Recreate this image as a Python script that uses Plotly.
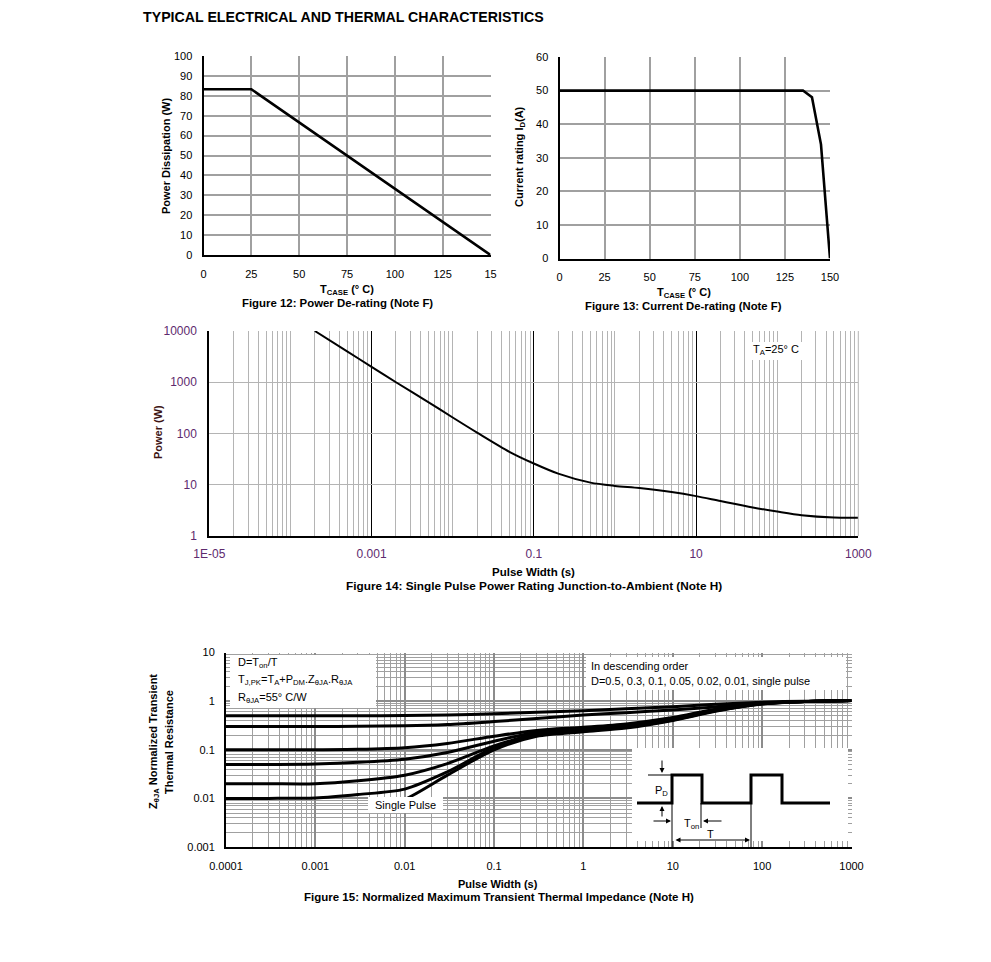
import plotly.graph_objects as go

W, H = 991, 962
OFF = 8                      # default page margin of the html body
FW, FH = W - 2 * OFF, H - 2 * OFF
FONT = "Liberation Sans, Arial, sans-serif"

# ---------------- data ----------------
# Figure 12: Power De-rating
tcase12 = [0, 25, 150]
pd12 = [83.3, 83.3, 0]
x12_tickvals = [0, 25, 50, 75, 100, 125, 150]
x12_ticktext = ["0", "25", "50", "75", "100", "125", "15"]
y12_tickvals = [0, 10, 20, 30, 40, 50, 60, 70, 80, 90, 100]

# Figure 13: Current De-rating
tcase13 = [0, 135, 140, 145, 150]
id13 = [50, 50, 48, 34, 0]
x13_tickvals = [0, 25, 50, 75, 100, 125, 150]
y13_tickvals = [0, 10, 20, 30, 40, 50, 60]

# Figure 14: Single pulse power rating
t14 = [2e-4, 5e-4, 1e-3, 2e-3, 5e-3, 1e-2, 2e-2, 5e-2, 0.1, 0.2, 0.5, 1, 2, 5, 10, 20, 50, 100, 200, 500, 1000]
p14 = [10000, 4000, 2000, 1000, 410, 205, 104, 44, 26, 16.5, 11, 9.5, 8.6, 7.2, 6.0, 4.8, 3.6, 3.0, 2.55, 2.3, 2.28]
x14_tickvals = [1e-5, 1e-3, 0.1, 10, 1000]
x14_ticktext = ["1E-05", "0.001", "0.1", "10", "1000"]
y14_tickvals = [1, 10, 100, 1000, 10000]
y14_ticktext = ["1", "10", "100", "1000", "10000"]

# Figure 15: Normalized transient thermal impedance
t15 = [1e-4, 3e-4, 1e-3, 3e-3, 1e-2, 3e-2, 0.1, 0.3, 1, 3, 10, 30, 100, 300, 1000]
z_d050 = [0.5, 0.5, 0.5, 0.5, 0.505, 0.52, 0.55, 0.59, 0.635, 0.7, 0.77, 0.86, 0.95, 1.0, 1.03]
z_d030 = [0.3, 0.3, 0.3, 0.305, 0.31, 0.33, 0.38, 0.44, 0.52, 0.58, 0.66, 0.76, 0.9, 0.98, 1.03]
z_d010 = [0.1, 0.1, 0.1, 0.102, 0.11, 0.135, 0.19, 0.25, 0.29, 0.34, 0.46, 0.68, 0.9, 0.98, 1.03]
z_d005 = [0.05, 0.05, 0.051, 0.055, 0.064, 0.088, 0.15, 0.23, 0.27, 0.32, 0.44, 0.66, 0.89, 0.98, 1.03]
z_d002 = [0.02, 0.02, 0.02, 0.023, 0.03, 0.052, 0.12, 0.21, 0.255, 0.3, 0.42, 0.64, 0.88, 0.98, 1.03]
z_d001 = [0.01, 0.01, 0.0102, 0.012, 0.0155, 0.035, 0.11, 0.2, 0.245, 0.29, 0.41, 0.63, 0.88, 0.98, 1.03]
t15_single = [0.004, 0.01, 0.03, 0.1, 0.3, 1, 3, 10, 30, 100, 300, 1000]
z_single = [0.0056, 0.0095, 0.03, 0.1, 0.19, 0.235, 0.28, 0.4, 0.62, 0.87, 0.98, 1.03]
duty_names = ["D=0.5", "D=0.3", "D=0.1", "D=0.05", "D=0.02", "D=0.01"]
x15_tickvals = [1e-4, 1e-3, 1e-2, 0.1, 1, 10, 100, 1000]
x15_ticktext = ["0.0001", "0.001", "0.01", "0.1", "1", "10", "100", "1000"]
y15_tickvals = [0.001, 0.01, 0.1, 1, 10]
y15_ticktext = ["0.001", "0.01", "0.1", "1", "10"]


def px(x):
    return (x - OFF) / FW


def py(y):
    return 1 - (y - OFF) / FH


def log_minor(e0, e1):
    return [m * 10.0 ** e for e in range(e0, e1) for m in range(2, 10)]


fig = go.Figure()

fig.add_trace(go.Scatter(x=tcase12, y=pd12, mode="lines", line=dict(color="black", width=2.6),
                         xaxis="x", yaxis="y", showlegend=False, hoverinfo="skip"))
fig.add_trace(go.Scatter(x=tcase13, y=id13, mode="lines", line=dict(color="black", width=2.6),
                         xaxis="x2", yaxis="y2", showlegend=False, hoverinfo="skip"))
fig.add_trace(go.Scatter(x=t14, y=p14, mode="lines", line=dict(color="black", width=2, shape="spline", smoothing=0.8),
                         xaxis="x3", yaxis="y3", showlegend=False, hoverinfo="skip"))
for name, vals in zip(duty_names, [z_d050, z_d030, z_d010, z_d005, z_d002, z_d001]):
    fig.add_trace(go.Scatter(x=t15, y=vals, mode="lines", name=name,
                             line=dict(color="black", width=3, shape="spline", smoothing=0.8),
                             xaxis="x4", yaxis="y4", showlegend=False, hoverinfo="skip"))
fig.add_trace(go.Scatter(x=t15_single, y=z_single, mode="lines", name="single pulse",
                         line=dict(color="black", width=3, shape="spline", smoothing=0.8),
                         xaxis="x4", yaxis="y4", showlegend=False, hoverinfo="skip"))

GRID = "#a0a0a0"
tickfont = dict(family=FONT, size=11, color="black")
tickfont14 = dict(family=FONT, size=12, color="#5e2a6e")

common = dict(showline=True, linecolor="black", linewidth=2, ticks="", zeroline=False,
              showgrid=True, fixedrange=True, automargin=False)

layout = dict(
    width=FW, height=FH, margin=dict(l=0, r=0, t=0, b=0, pad=0, autoexpand=False),
    paper_bgcolor="white", plot_bgcolor="white",
    font=dict(family=FONT, size=11, color="black"),
    showlegend=False,
    xaxis=dict(domain=[px(203.5), px(490.5)], anchor="y", range=[0, 150], tickmode="array",
               tickvals=x12_tickvals, ticktext=x12_ticktext, gridcolor=GRID, gridwidth=1.5,
               ticklabelstandoff=8, tickfont=tickfont, **common),
    yaxis=dict(domain=[py(255), py(56)], anchor="x", range=[0, 100], tickmode="array",
               tickvals=y12_tickvals, gridcolor=GRID, gridwidth=1.5, ticklabelstandoff=7,
               tickfont=tickfont, **common),
    xaxis2=dict(domain=[px(559.5), px(830)], anchor="y2", range=[0, 150], tickmode="array",
                tickvals=x13_tickvals, gridcolor=GRID, gridwidth=1.5, ticklabelstandoff=7,
                tickfont=tickfont, **common),
    yaxis2=dict(domain=[py(258.5), py(57)], anchor="x2", range=[0, 60], tickmode="array",
                tickvals=y13_tickvals, gridcolor=GRID, gridwidth=1.5, ticklabelstandoff=7,
                tickfont=tickfont, **common),
    xaxis3=dict(domain=[px(209.3), px(858.3)], anchor="y3", type="log", range=[-5, 3], tickmode="array",
                tickvals=x14_tickvals, ticktext=x14_ticktext, gridcolor="black", gridwidth=1,
                minor=dict(tickvals=[m * 10.0 ** e for e in range(-5, 3) for m in range(1, 10)],
                           showgrid=True, gridcolor="#b4b4b4", gridwidth=1, ticks=""),
                ticklabelstandoff=6, tickfont=tickfont14, **common),
    yaxis3=dict(domain=[py(536), py(331)], anchor="x3", type="log", range=[0, 4], tickmode="array",
                tickvals=y14_tickvals, ticktext=y14_ticktext, gridcolor="#b4b4b4", gridwidth=1,
                ticklabelstandoff=8, tickfont=tickfont14, **common),
    xaxis4=dict(domain=[px(226), px(851.5)], anchor="y4", type="log", range=[-4, 3], tickmode="array",
                tickvals=x15_tickvals, ticktext=x15_ticktext, gridcolor="#8c8c8c", gridwidth=1.5,
                minor=dict(tickvals=log_minor(-4, 3), showgrid=True, gridcolor="#a0a0a0", gridwidth=1.2, ticks=""),
                ticklabelstandoff=8, tickfont=tickfont, **common),
    yaxis4=dict(domain=[py(847), py(652.5)], anchor="x4", type="log", range=[-3, 1], tickmode="array",
                tickvals=y15_tickvals, ticktext=y15_ticktext, gridcolor="#8c8c8c", gridwidth=1.5,
                minor=dict(tickvals=log_minor(-3, 1), showgrid=True, gridcolor="#a0a0a0", gridwidth=1.2, ticks=""),
                ticklabelstandoff=7, tickfont=tickfont, **common),
)
fig.update_layout(**layout)

shapes = []
# right edge of figure 14 grid is grey, not black
shapes.append(dict(type="line", xref="x3 domain", yref="y3 domain", x0=1, x1=1, y0=0, y1=1,
                   line=dict(color="#b4b4b4", width=1), layer="above"))


def rect(x0, y0, x1, y1):
    shapes.append(dict(type="rect", xref="paper", yref="paper", x0=px(x0), x1=px(x1), y0=py(y1), y1=py(y0),
                       fillcolor="white", line=dict(width=0), layer="above"))


def seg(x0, y0, x1, y1, w=1):
    shapes.append(dict(type="line", xref="paper", yref="paper", x0=px(x0), x1=px(x1), y0=py(y0), y1=py(y1),
                       line=dict(color="black", width=w), layer="above"))


# text boxes
rect(748, 342, 802, 360)       # TA=25 C
rect(230, 655, 376, 708)       # D=Ton/T box
rect(586, 657, 846, 690)       # In descending order
rect(368, 797, 443, 813)       # Single Pulse
rect(632, 748, 848, 841)       # pulse inset

# pulse waveform inset
wave = [(637, 803), (672, 803), (672, 775), (702, 775), (702, 803), (751, 803), (751, 775), (782, 775), (782, 803), (830, 803)]
path = "M " + " L ".join(f"{px(a):.5f},{py(b):.5f}" for a, b in wave)
shapes.append(dict(type="path", xref="paper", yref="paper", path=path,
                   line=dict(color="black", width=3), layer="above"))
seg(648, 775, 672, 775)
seg(672, 803, 672, 849)
seg(701, 803, 701, 828)
seg(751, 803, 751, 847)

ann = []


def text(x, y, s, size=11, bold=False, xanchor="center", angle=0, color="black"):
    ann.append(dict(x=px(x), y=py(y), xref="paper", yref="paper", text=(f"<b>{s}</b>" if bold else s),
                    showarrow=False, xanchor=xanchor, yanchor="middle", textangle=angle,
                    font=dict(family=FONT, size=size, color=color)))


def arrow(x, y, ax, ay, both=False):
    ann.append(dict(x=px(x), y=py(y), xref="paper", yref="paper", ax=ax - x, ay=ay - y, axref="pixel", ayref="pixel",
                    text="", showarrow=True, arrowhead=2, arrowsize=1, arrowwidth=1, arrowcolor="black",
                    arrowside=("end+start" if both else "end"), startarrowhead=2))


text(141, 17, "TYPICAL ELECTRICAL AND THERMAL CHARACTERISTICS", size=14.2, bold=True, xanchor="left")

# Figure 12
text(166, 156, "Power Dissipation (W)", bold=True, angle=-90)
text(347, 290, "T<sub>CASE</sub> (° C)", bold=True)
text(337, 303, "Figure 12: Power De-rating (Note F)", size=11.4, bold=True)

# Figure 13
text(520, 157, "Current rating I<sub>D</sub>(A)", bold=True, angle=-90)
text(684, 293, "T<sub>CASE</sub> (° C)", bold=True)
text(683, 306, "Figure 13: Current De-rating (Note F)", size=11.3, bold=True)

# Figure 14
text(158, 432, "Power (W)", bold=True, angle=-90, color="#3d1414")
text(533, 572, "Pulse Width (s)", size=11.5, bold=True)
text(534, 586, "Figure 14: Single Pulse Power Rating Junction-to-Ambient (Note H)", size=11.8, bold=True)
text(751, 350, "T<sub>A</sub>=25° C", xanchor="left")

# Figure 15
text(154, 742, "Z<sub>θJA</sub> Normalized Transient", bold=True, angle=-90)
text(169, 742, "Thermal Resistance", bold=True, angle=-90)
text(498, 884, "Pulse Width (s)", bold=True)
text(499, 897, "Figure 15: Normalized Maximum Transient Thermal Impedance (Note H)", size=11.5, bold=True)
text(236, 663, "D=T<sub>on</sub>/T", xanchor="left")
text(236, 680, "T<sub>J,PK</sub>=T<sub>A</sub>+P<sub>DM</sub>.Z<sub>θJA</sub>.R<sub>θJA</sub>", xanchor="left")
text(236, 698, "R<sub>θJA</sub>=55° C/W", xanchor="left")
text(589, 666, "In descending order", xanchor="left")
text(589, 681, "D=0.5, 0.3, 0.1, 0.05, 0.02, 0.01, single pulse", xanchor="left")
text(405, 805, "Single Pulse")
text(661, 791, "P<sub>D</sub>")
text(691, 824, "T<sub>on</sub>")
text(710, 834, "T")
arrow(662, 773, 662, 759)
arrow(662, 806, 662, 818)
arrow(671, 821, 652, 821)
arrow(703, 821, 723, 821)
arrow(750, 840, 674, 840, both=True)

fig.update_layout(shapes=shapes, annotations=ann)
fig.write_html("out.html")
